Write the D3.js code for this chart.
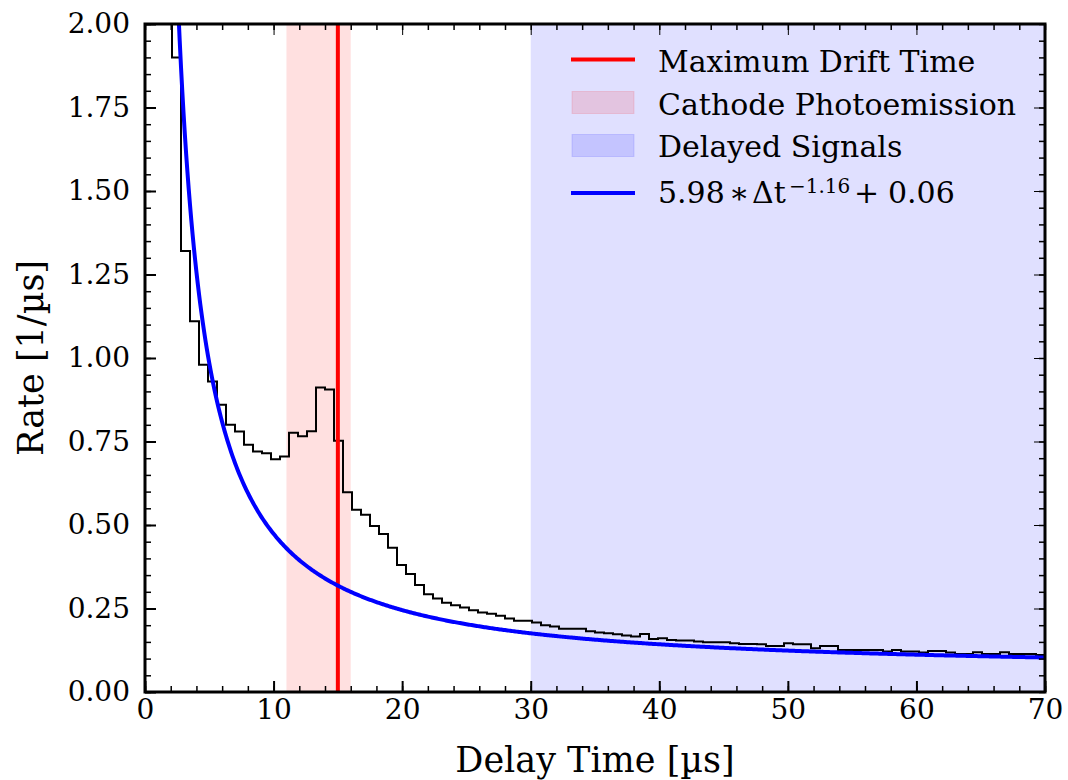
<!DOCTYPE html>
<html>
<head>
<meta charset="utf-8">
<script src="https://cdn.jsdelivr.net/npm/d3@7"></script>
<style>
  body { margin: 0; background: #fff; }
</style>
</head>
<body>
<div id="chart"></div>
<script>
const binWidth = 0.7;
// rate per 0.7 µs bin, bins 0..99 (first three run off the top of the axes)
const rates = [
  4.2, 3.2, 2.4, 1.90, 1.32, 1.11, 0.98, 0.93, 0.86, 0.80,
  0.78, 0.74, 0.72, 0.715, 0.697, 0.705, 0.776, 0.766, 0.781, 0.912,
  0.906, 0.752, 0.598, 0.546, 0.531, 0.497, 0.473, 0.432, 0.380, 0.353,
  0.320, 0.293, 0.280, 0.267, 0.260, 0.253, 0.245, 0.238, 0.234, 0.228,
  0.220, 0.213, 0.213, 0.208, 0.200, 0.196, 0.189, 0.189, 0.189, 0.182,
  0.178, 0.176, 0.173, 0.169, 0.166, 0.174, 0.159, 0.161, 0.156, 0.154,
  0.154, 0.151, 0.149, 0.149, 0.149, 0.146, 0.144, 0.144, 0.143, 0.138,
  0.138, 0.146, 0.143, 0.143, 0.131, 0.138, 0.138, 0.126, 0.126, 0.126,
  0.126, 0.126, 0.121, 0.126, 0.121, 0.121, 0.118, 0.123, 0.123, 0.118,
  0.114, 0.114, 0.119, 0.114, 0.114, 0.119, 0.114, 0.114, 0.114, 0.111
];
const fitParams = [5.98, -1.16, 0.06];   // a * t^b + c
const maxDriftTime = 15;
const cathodeBand = [11, 16];
const delayedBand = [30, 70];
const xTicks = [0, 10, 20, 30, 40, 50, 60, 70];
const yTicks = [0, 0.25, 0.5, 0.75, 1.0, 1.25, 1.5, 1.75, 2.0];
const legendLabels = ['Maximum Drift Time', 'Cathode Photoemission', 'Delayed Signals'];

const FONT = "'DejaVu Serif'";
const width = 1068, height = 780;
const margin = { top: 24, right: 23, bottom: 88, left: 145 };

const svg = d3.select('#chart').append('svg')
  .attr('width', width)
  .attr('height', height);

const x = d3.scaleLinear().domain([0, 70]).range([margin.left, width - margin.right]);
const y = d3.scaleLinear().domain([0, 2]).range([height - margin.bottom, margin.top]);

svg.append('clipPath')
  .attr('id', 'plot-clip')
  .append('rect')
    .attr('x', x(0)).attr('y', y(2))
    .attr('width', x(70) - x(0)).attr('height', y(0) - y(2));

const plot = svg.append('g').attr('clip-path', 'url(#plot-clip)');

plot.append('rect')
  .attr('x', x(delayedBand[0])).attr('y', y(2))
  .attr('width', x(delayedBand[1]) - x(delayedBand[0])).attr('height', y(0) - y(2))
  .attr('fill', 'blue').attr('fill-opacity', 0.12);

plot.append('rect')
  .attr('x', x(cathodeBand[0])).attr('y', y(2))
  .attr('width', x(cathodeBand[1]) - x(cathodeBand[0])).attr('height', y(0) - y(2))
  .attr('fill', 'red').attr('fill-opacity', 0.12);

const stepPoints = [[0, 0]];
rates.forEach((r, i) => {
  stepPoints.push([i * binWidth, r], [(i + 1) * binWidth, r]);
});
stepPoints.push([rates.length * binWidth, 0]);

plot.append('path')
  .attr('d', d3.line().x(d => x(d[0])).y(d => y(d[1]))(stepPoints))
  .attr('fill', 'none')
  .attr('stroke', '#000')
  .attr('stroke-width', 2);

plot.append('line')
  .attr('x1', x(maxDriftTime)).attr('x2', x(maxDriftTime))
  .attr('y1', y(0)).attr('y2', y(2))
  .attr('stroke', 'red').attr('stroke-width', 4);

const [a, b, c] = fitParams;
const fitT = d3.range(1, 70.001, 0.1);
plot.append('path')
  .attr('d', d3.line().x(t => x(t)).y(t => y(a * Math.pow(t, b) + c))(fitT))
  .attr('fill', 'none')
  .attr('stroke', 'blue')
  .attr('stroke-width', 4);

// axes, ticks pointing in on all four sides
const xMinor = d3.range(0, 70.001, 2);
const yMinor = d3.range(0, 2.0001, 0.05);
const fmt = d3.format('.2f');

const addAxis = (axis, transform) => svg.append('g')
  .attr('transform', transform)
  .call(axis)
  .call(g => g.select('.domain').remove())
  .call(g => g.selectAll('line').attr('stroke', '#000'));

addAxis(d3.axisBottom(x).tickValues(xMinor).tickSize(-6).tickFormat(''), `translate(0,${y(0)})`)
  .selectAll('line').attr('stroke-width', 1.5);
addAxis(d3.axisTop(x).tickValues(xMinor).tickSize(-6).tickFormat(''), `translate(0,${y(2)})`)
  .selectAll('line').attr('stroke-width', 1.5);
addAxis(d3.axisLeft(y).tickValues(yMinor).tickSize(-6).tickFormat(''), `translate(${x(0)},0)`)
  .selectAll('line').attr('stroke-width', 1.5);
addAxis(d3.axisRight(y).tickValues(yMinor).tickSize(-6).tickFormat(''), `translate(${x(70)},0)`)
  .selectAll('line').attr('stroke-width', 1.5);

const xAxis = addAxis(d3.axisBottom(x).tickValues(xTicks).tickSize(-11).tickPadding(7).tickFormat(d3.format('d')), `translate(0,${y(0)})`);
addAxis(d3.axisTop(x).tickValues(xTicks).tickSize(-11).tickFormat(''), `translate(0,${y(2)})`);
const yAxis = addAxis(d3.axisLeft(y).tickValues(yTicks).tickSize(-11).tickPadding(15).tickFormat(fmt), `translate(${x(0)},0)`);
addAxis(d3.axisRight(y).tickValues(yTicks).tickSize(-11).tickFormat(''), `translate(${x(70)},0)`);

[xAxis, yAxis].forEach(g => g.selectAll('line').attr('stroke-width', 2));
[xAxis, yAxis].forEach(g => g.selectAll('text')
  .style('font-family', FONT)
  .style('font-size', '28px')
  .attr('fill', '#000'));

svg.append('rect')
  .attr('x', x(0)).attr('y', y(2))
  .attr('width', x(70) - x(0)).attr('height', y(0) - y(2))
  .attr('fill', 'none')
  .attr('stroke', '#000')
  .attr('stroke-width', 3);

svg.append('text')
  .attr('x', (x(0) + x(70)) / 2)
  .attr('y', 772)
  .attr('text-anchor', 'middle')
  .style('font-family', FONT)
  .style('font-size', '35px')
  .text('Delay Time [µs]');

svg.append('text')
  .attr('transform', `translate(43,${(y(0) + y(2)) / 2}) rotate(-90)`)
  .attr('text-anchor', 'middle')
  .style('font-family', FONT)
  .style('font-size', '35px')
  .text('Rate [1/µs]');

// legend (no frame)
const legend = svg.append('g');
const handleX = [571, 635];
const textX = 658;
const rowBase = [72, 114.5, 157, 203];
const handleY = [59.5, 102.5, 145.5, 193];

legend.append('line')
  .attr('x1', handleX[0]).attr('x2', handleX[1])
  .attr('y1', handleY[0]).attr('y2', handleY[0])
  .attr('stroke', 'red').attr('stroke-width', 4);

[['red', 1], ['blue', 2]].forEach(([col, i]) => {
  legend.append('rect')
    .attr('x', handleX[0] + 1).attr('y', handleY[i] - 11)
    .attr('width', handleX[1] - handleX[0] - 2).attr('height', 22)
    .attr('fill', col).attr('fill-opacity', 0.12)
    .attr('stroke', col).attr('stroke-opacity', 0.12).attr('stroke-width', 1);
});

legend.append('line')
  .attr('x1', handleX[0]).attr('x2', handleX[1])
  .attr('y1', handleY[3]).attr('y2', handleY[3])
  .attr('stroke', 'blue').attr('stroke-width', 4);

legend.selectAll('text.entry').data(legendLabels)
  .enter().append('text')
    .attr('class', 'entry')
    .attr('x', textX)
    .attr('y', (d, i) => rowBase[i])
    .style('font-family', FONT)
    .style('font-size', '30px')
    .text(d => d);

// mathtext-like fit label: 5.98 * Δt^-1.16 + 0.06
const formula = legend.append('text')
  .attr('y', rowBase[3])
  .style('font-family', FONT)
  .style('font-size', '30px');
formula.append('tspan').attr('x', textX).text(a.toFixed(2));
formula.append('tspan').attr('x', textX + 71).text('∗');
formula.append('tspan').attr('x', textX + 94).text('Δt');
formula.append('tspan')
  .attr('x', textX + 131)
  .attr('dy', -10.5)
  .style('font-size', '20px')
  .text(`−${Math.abs(b).toFixed(2)}`);
formula.append('tspan').attr('x', textX + 196).attr('dy', 10.5).text('+');
formula.append('tspan').attr('x', textX + 230).text(c.toFixed(2));
</script>
</body>
</html>
